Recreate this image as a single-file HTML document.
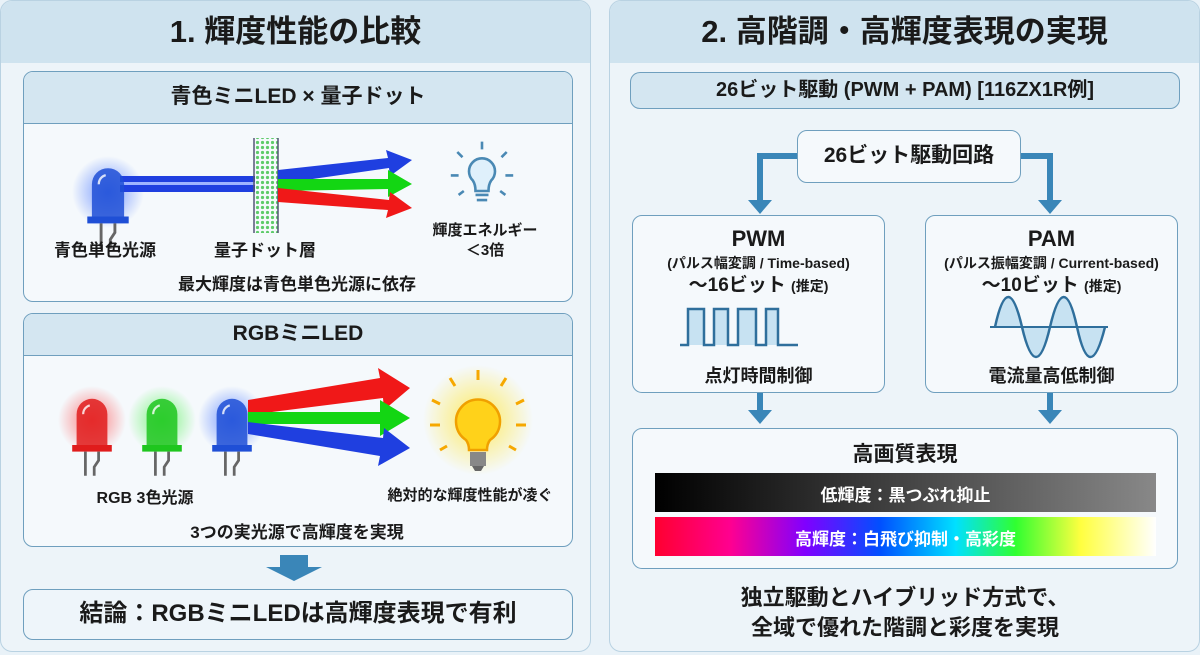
<!DOCTYPE html>
<html><head><meta charset="utf-8"><style>
*{margin:0;padding:0;box-sizing:border-box}
body{width:1200px;height:655px;background:#e9f2f8;position:relative;overflow:hidden;font-family:"Liberation Sans","Noto Sans CJK JP",sans-serif;color:#1a1a1a;font-weight:bold}
.a{position:absolute}
.panel{position:absolute;top:0;height:652px;border:1.5px solid #b9d2e2;border-radius:12px;background:#edf4f9;overflow:hidden}
.ph{position:absolute;left:0;right:0;top:0;height:62px;background:#cfe3ef;text-align:center;font-size:31px;line-height:62px}
.box{position:absolute;border:1.5px solid #6f9fbe;border-radius:10px;background:#f5f9fc;overflow:hidden}
.bh{position:absolute;left:0;right:0;top:0;background:#d4e6f1;border-bottom:1.5px solid #6f9fbe;text-align:center;font-size:21px}
.t{position:absolute;text-align:center;white-space:nowrap}
</style></head><body>
<svg class="a" style="left:0;top:0" width="1200" height="655">
<defs>
<symbol id="led" viewBox="0 0 40 80"><path d="M6 52 V22 A14 14 0 0 1 34 22 V52 Z" fill="currentColor" opacity=".85"/><rect x="2" y="50" width="36" height="6" fill="currentColor"/><path d="M14 56 V78 M26 56 V64 L22 70 V78" stroke="#666" stroke-width="2.5" fill="none"/><path d="M12 22 A8 8 0 0 1 18 14" stroke="#fff" stroke-width="2" fill="none" opacity=".8"/></symbol>
<radialGradient id="gb"><stop offset="0" stop-color="#3a6bff" stop-opacity=".7"/><stop offset="1" stop-color="#3a6bff" stop-opacity="0"/></radialGradient>
<radialGradient id="gr"><stop offset="0" stop-color="#ff2a2a" stop-opacity=".6"/><stop offset="1" stop-color="#ff2a2a" stop-opacity="0"/></radialGradient>
<radialGradient id="gg"><stop offset="0" stop-color="#2aef2a" stop-opacity=".6"/><stop offset="1" stop-color="#2aef2a" stop-opacity="0"/></radialGradient>
<radialGradient id="gy"><stop offset="0" stop-color="#ffe84a" stop-opacity=".9"/><stop offset="1" stop-color="#ffe84a" stop-opacity="0"/></radialGradient>
<linearGradient id="bk" x1="0" x2="1"><stop offset="0" stop-color="#000"/><stop offset="1" stop-color="#888"/></linearGradient>
<linearGradient id="rb" x1="0" x2="1"><stop offset="0" stop-color="#ff0030"/><stop offset=".15" stop-color="#ff0090"/><stop offset=".3" stop-color="#8000ff"/><stop offset=".45" stop-color="#0050ff"/><stop offset=".6" stop-color="#00e0ff"/><stop offset=".72" stop-color="#30ff30"/><stop offset=".85" stop-color="#ffff40"/><stop offset="1" stop-color="#fff"/></linearGradient>
<pattern id="dots" width="5" height="5" patternUnits="userSpaceOnUse"><circle cx="2.5" cy="2.5" r="1.6" fill="#5ecb6a"/></pattern>
</defs>
</svg>

<div class="panel" style="left:0;width:591px">
<div class="ph">1. 輝度性能の比較</div>
<div class="box" style="left:22px;top:70px;width:550px;height:231px">
<div class="bh" style="height:52px;line-height:50px">青色ミニLED × 量子ドット</div>
</div>
<div class="box" style="left:22px;top:312px;width:550px;height:234px">
<div class="bh" style="height:42px;line-height:40px">RGBミニLED</div>
</div>
<div class="box" style="left:22px;top:588px;width:550px;height:51px;background:#eef5fa;text-align:center;font-size:24px;line-height:48px">結論：RGBミニLEDは高輝度表現で有利</div>
</div>

<div class="panel" style="left:609px;width:591px">
<div class="ph">2. 高階調・高輝度表現の実現</div>
</div>
<div class="box" style="left:630px;top:72px;width:550px;height:37px;background:#d4e6f1;text-align:center;font-size:20px;line-height:34px">26ビット駆動 (PWM + PAM) [116ZX1R例]</div>
<div class="box" style="left:797px;top:130px;width:224px;height:53px;background:#f5f9fc;text-align:center;font-size:21px;line-height:50px">26ビット駆動回路</div>
<div class="box" style="left:632px;top:215px;width:253px;height:178px"></div>
<div class="box" style="left:925px;top:215px;width:253px;height:178px"></div>
<div class="box" style="left:632px;top:428px;width:546px;height:141px"></div>

<svg class="a" style="left:0;top:0" width="1200" height="655">
<circle cx="108" cy="192" r="36" fill="url(#gb)"/>
<rect x="120" y="176" width="135" height="16" fill="#1f3fe0"/><rect x="120" y="182" width="135" height="3" fill="#9fb4ff"/>
<use href="#led" x="85" y="155" width="46" height="100" style="color:#1f4fd6"/>
<rect x="254" y="138" width="24" height="95" fill="url(#dots)"/>
<path d="M254 138V233M278 138V233" stroke="#557" stroke-width="1.5"/>
<path d="M278 170 L388 158 L386 150 L412 160 L390 176 L389 168 L278 184Z" fill="#1f3fe0"/>
<path d="M278 179 L388 179 L388 170 L412 184 L388 197 L388 189 L278 191Z" fill="#13d613"/>
<path d="M278 188 L389 200 L390 192 L412 208 L386 218 L388 210 L278 202Z" fill="#f01818"/>
<g stroke="#4a89b4" stroke-width="2" fill="none" transform="translate(482,178) scale(1.3) translate(-482,-178)">
<path d="M475 180 a10 10 0 1 1 14 0 c-2 3 -2 6 -2 8 h-10 c0 -2 0 -5 -2 -8Z" fill="#dff0fb"/>
<path d="M477 191h10M478 195h8"/>
<path d="M482 150v6M463 158l4 4M501 158l-4 4M458 176h6M500 176h6M464 191l4-3M500 191l-4-3"/>
</g>
<circle cx="92" cy="420" r="34" fill="url(#gr)"/><circle cx="162" cy="420" r="34" fill="url(#gg)"/><circle cx="232" cy="420" r="34" fill="url(#gb)"/>
<use href="#led" x="70" y="390" width="44" height="88" style="color:#e01c1c"/>
<use href="#led" x="140" y="390" width="44" height="88" style="color:#1ec61e"/>
<use href="#led" x="210" y="390" width="44" height="88" style="color:#1f4fd6"/>
<path d="M248 400 L380 378 L378 368 L410 388 L384 410 L383 398 L248 415Z" fill="#f01818"/>
<path d="M248 412 L380 412 L380 400 L410 418 L380 436 L380 424 L248 424Z" fill="#13d613"/>
<path d="M248 422 L383 438 L384 428 L410 448 L378 466 L380 456 L248 434Z" fill="#1f3fe0"/>
<circle cx="478" cy="420" r="55" fill="url(#gy)"/>
<path d="M466 440 a22 22 0 1 1 24 0 c-3 4 -3 8 -3 10 h-18 c0 -2 0 -6 -3 -10Z" fill="#ffd21a" stroke="#f0a000" stroke-width="2.5"/>
<path d="M470 452h16v14h-16z" fill="#888"/><path d="M472 466h12l-3 5h-6z" fill="#666"/>
<g stroke="#f6a800" stroke-width="3"><path d="M478 370v10M450 378l5 8M506 378l-5 8M432 400l8 4M524 400l-8 4M430 425h10M516 425h10M440 450l7-4M516 450l-7-4"/></g>
<path d="M280 555h28v12h14l-28 14l-28-14h14z" fill="#3a86b8"/>
<g stroke="#3a86b8" stroke-width="6" fill="none">
<path d="M797 156H760V202M1021 156H1050V202"/>
<path d="M760 393V412M1050 393V412"/>
</g>
<g fill="#3a86b8">
<path d="M748 200h24l-12 14z"/><path d="M1038 200h24l-12 14z"/>
<path d="M748 410h24l-12 14z"/><path d="M1038 410h24l-12 14z"/>
</g>
<path d="M688 345v-36h16v36zM714 345v-36h14v36zM738 345v-36h18v36zM766 345v-36h12v36z" fill="#bcdcef" opacity=".8"/>
<path d="M680 345h8v-36h16v36h10v-36h14v36h10v-36h18v36h10v-36h12v36h20" fill="none" stroke="#2f6f9c" stroke-width="2.5"/>
<path d="M995 327 Q1008 267 1022 327 T1050 327 T1077 327 T1105 327Z" fill="#bcdcef" opacity=".8"/>
<path d="M995 327 Q1008 267 1022 327 T1050 327 T1077 327 T1105 327" fill="none" stroke="#2f6f9c" stroke-width="2.5"/>
<path d="M990 327h118" stroke="#2f6f9c" stroke-width="2"/>
<rect x="655" y="473" width="501" height="39" fill="url(#bk)"/>
<rect x="655" y="517" width="501" height="39" fill="url(#rb)"/>
</svg>

<div class="t" style="left:30px;top:236px;width:150px;font-size:17px">青色単色光源</div>
<div class="t" style="left:195px;top:236px;width:140px;font-size:17px">量子ドット層</div>
<div class="t" style="left:415px;top:221px;width:140px;font-size:15px;line-height:20px">輝度エネルギー<br>＜3倍</div>
<div class="t" style="left:22px;top:270px;width:550px;font-size:17px">最大輝度は青色単色光源に依存</div>
<div class="t" style="left:70px;top:484px;width:150px;font-size:16px">RGB 3色光源</div>
<div class="t" style="left:370px;top:484px;width:200px;font-size:15px">絶対的な輝度性能が凌ぐ</div>
<div class="t" style="left:22px;top:518px;width:550px;font-size:17px">3つの実光源で高輝度を実現</div>

<div class="t" style="left:632px;top:226px;width:253px;font-size:22px">PWM</div>
<div class="t" style="left:632px;top:253px;width:253px;font-size:14px">(パルス幅変調 / Time-based)</div>
<div class="t" style="left:632px;top:270px;width:253px;font-size:19px">〜16ビット <span style="font-size:14px">(推定)</span></div>
<div class="t" style="left:632px;top:362px;width:253px;font-size:18px">点灯時間制御</div>
<div class="t" style="left:925px;top:226px;width:253px;font-size:22px">PAM</div>
<div class="t" style="left:925px;top:253px;width:253px;font-size:14px">(パルス振幅変調 / Current-based)</div>
<div class="t" style="left:925px;top:270px;width:253px;font-size:19px">〜10ビット <span style="font-size:14px">(推定)</span></div>
<div class="t" style="left:925px;top:362px;width:253px;font-size:18px">電流量高低制御</div>
<div class="t" style="left:632px;top:438px;width:546px;font-size:21px">高画質表現</div>
<div class="t" style="left:655px;top:481px;width:501px;font-size:17px;color:#fff">低輝度：黒つぶれ抑止</div>
<div class="t" style="left:655px;top:525px;width:501px;font-size:17px;color:#fff">高輝度：白飛び抑制・高彩度</div>
<div class="t" style="left:610px;top:583px;width:590px;font-size:22px;line-height:30px">独立駆動とハイブリッド方式で、<br>全域で優れた階調と彩度を実現</div>
</body></html>
